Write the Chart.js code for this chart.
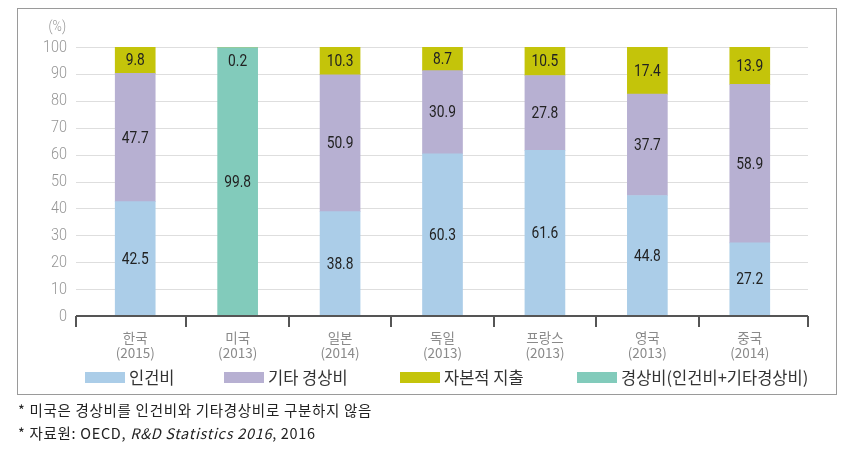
<!DOCTYPE html>
<html><head><meta charset="utf-8">
<script src="https://cdn.jsdelivr.net/npm/chart.js@4/dist/chart.umd.min.js"></script>
<style>
html,body{margin:0;padding:0;background:#fff;width:859px;height:463px;overflow:hidden;font-family:"Noto Sans CJK KR","Noto Sans",sans-serif;}
#wrap{position:absolute;left:0;top:0;width:859px;height:400px;}
#frame{position:absolute;left:17px;top:8px;width:818px;height:385px;border:1px solid #9a9a9a;pointer-events:none;}
.lg{position:absolute;top:367px;height:20px;display:flex;align-items:center;font-size:16.5px;color:#333;white-space:nowrap;}
.lg i{display:inline-block;width:40px;height:11px;margin-right:4px;}
.fn{position:absolute;left:18px;font-size:14.5px;letter-spacing:0.7px;color:#222;white-space:nowrap;}
</style></head>
<body>
<div id="wrap"><canvas id="c" width="859" height="400"></canvas></div>
<div id="frame"></div>
<div id="legend"></div>
<div class="fn" style="top:399px">* 미국은 경상비를 인건비와 기타경상비로 구분하지 않음</div>
<div class="fn" style="top:422px">* 자료원: OECD, <i>R&amp;D Statistics 2016</i>, 2016</div>
<script>
const categories = [['한국','(2015)'],['미국','(2013)'],['일본','(2014)'],['독일','(2013)'],['프랑스','(2013)'],['영국','(2013)'],['중국','(2014)']];
const seriesNames = ['인건비','기타 경상비','자본적 지출','경상비(인건비+기타경상비)'];
const laborCost = [42.5, null, 38.8, 60.3, 61.6, 44.8, 27.2];
const otherCurrent = [47.7, null, 50.9, 30.9, 27.8, 37.7, 58.9];
const capital = [9.8, 0.2, 10.3, 8.7, 10.5, 17.4, 13.9];
const currentTotal = [null, 99.8, null, null, null, null, null];
const yTicks = [0,10,20,30,40,50,60,70,80,90,100];
const colors = ['#abcde8','#b7b0d2','#c4c40a','#82cbbb'];

// HTML legend
const legendLeft = [85, 224, 400, 577];
const lg = document.getElementById('legend');
seriesNames.forEach((n,i)=>{
  const d=document.createElement('div');d.className='lg';d.style.left=legendLeft[i]+'px';
  d.innerHTML='<i style="background:'+colors[i]+'"></i>'+n;lg.appendChild(d);
});

function narrowText(ctx, text, x, y, align, sx){
  ctx.save();
  ctx.translate(x, y);
  ctx.scale(sx, 1);
  ctx.textAlign = align;
  ctx.fillText(text, 0, 0);
  ctx.restore();
}

const custom = {
  id:'custom',
  beforeDatasetsDraw(chart){
    const {ctx, chartArea:a, scales:{x,y}} = chart;
    ctx.save();
    ctx.strokeStyle='#dedede';ctx.lineWidth=1;
    yTicks.forEach(v=>{ if(v===0) return; const py=Math.round(y.getPixelForValue(v))+0.5;
      ctx.beginPath();ctx.moveTo(a.left-8,py);ctx.lineTo(a.right+7,py);ctx.stroke();});
    ctx.fillStyle='#959595';ctx.textBaseline='middle';
    ctx.font='300 16px Roboto, "Liberation Sans", sans-serif';
    yTicks.forEach(v=>narrowText(ctx, String(v), 67, y.getPixelForValue(v)+0.5, 'right', 0.9));
    ctx.font='300 14px Roboto, "Liberation Sans", sans-serif';
    narrowText(ctx, '(%)', 66, 27, 'right', 0.9);
    ctx.restore();
  },
  afterDatasetsDraw(chart){
    const {ctx, chartArea:a, scales:{x,y}} = chart;
    ctx.save();
    ctx.font='16px Roboto, "Liberation Sans", sans-serif';
    ctx.fillStyle='#222';ctx.textBaseline='middle';
    chart.data.datasets.forEach((ds,di)=>{
      const meta=chart.getDatasetMeta(di);
      meta.data.forEach((el,i)=>{
        const v=ds.data[i]; if(v===null||v===undefined) return;
        let py=(el.y+el.base)/2;
        if(v<2) py=y.getPixelForValue(94.8);
        narrowText(ctx, v.toFixed(1), el.x, py+1, 'center', 0.86);
      });
    });
    // axis
    const y0=Math.round(y.getPixelForValue(0));
    const L=a.left-8, R=a.right+7;
    ctx.strokeStyle='#555';ctx.lineWidth=2;
    ctx.beginPath();ctx.moveTo(L,y0);ctx.lineTo(R,y0);ctx.stroke();
    const ticks=[L,R];
    for(let i=0;i<categories.length-1;i++) ticks.push((x.getPixelForValue(i)+x.getPixelForValue(i+1))/2);
    ticks.forEach(t=>{ctx.beginPath();ctx.moveTo(Math.round(t),y0);ctx.lineTo(Math.round(t),y0+11);ctx.stroke();});
    ctx.restore();
  }
};

new Chart(document.getElementById('c'),{
  type:'bar',
  data:{labels:categories,datasets:[
    {label:seriesNames[0],data:laborCost,backgroundColor:colors[0]},
    {label:seriesNames[1],data:otherCurrent,backgroundColor:colors[1]},
    {label:seriesNames[3],data:currentTotal,backgroundColor:colors[3]},
    {label:seriesNames[2],data:capital,backgroundColor:colors[2]}
  ]},
  options:{
    responsive:false,animation:false,devicePixelRatio:1,
    layout:{padding:{left:0,right:58,top:47,bottom:24}},
    plugins:{legend:{display:false},tooltip:{enabled:false}},
    datasets:{bar:{barThickness:40,borderWidth:0}},
    scales:{
      x:{stacked:true,grid:{display:false,drawTicks:false,tickLength:0},border:{display:false},
        ticks:{padding:14,color:'#8a8a8a',font:{size:13.5,family:'"Noto Sans CJK KR","Liberation Sans Narrow",sans-serif',lineHeight:1.12},maxRotation:0,autoSkip:false},
        afterFit(s){s.height=60;}},
      y:{stacked:true,min:0,max:100,grid:{display:false,drawTicks:false,tickLength:0},border:{display:false},
        afterBuildTicks(s){s.ticks=yTicks.map(v=>({value:v}));},
        ticks:{display:false},
        afterFit(s){s.width=84;}}
    }
  },
  plugins:[custom]
});
</script>
</body></html>
